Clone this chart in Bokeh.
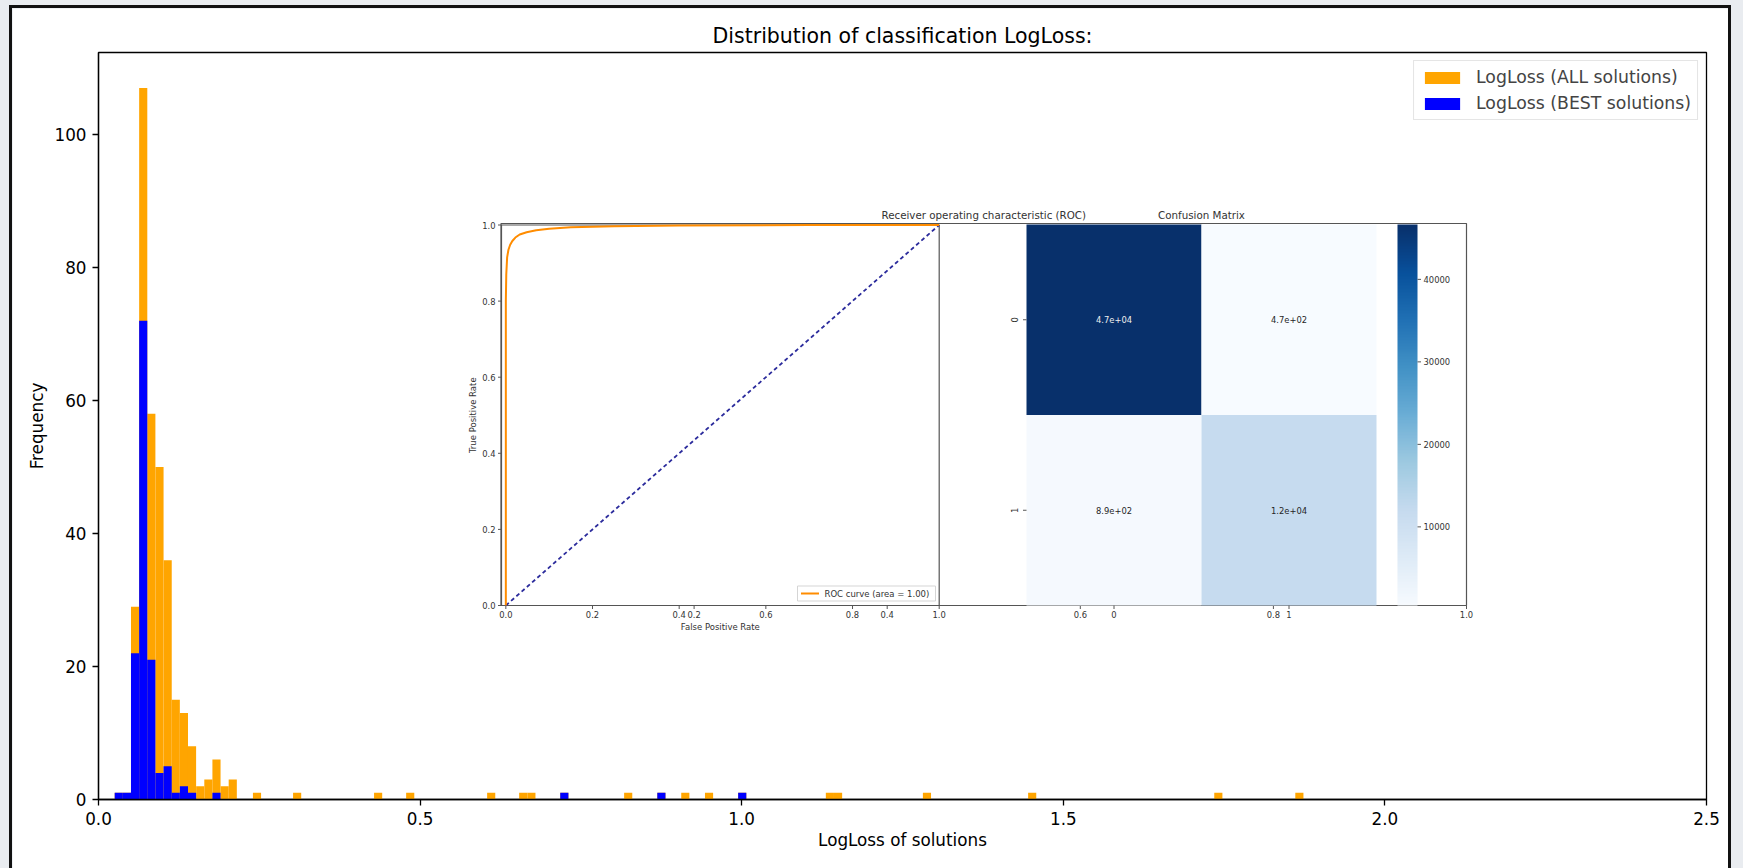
import numpy as np
from bokeh.plotting import figure
from bokeh.models import (Range1d, Legend, LegendItem, ColumnDataSource, LinearColorMapper,
                          FixedTicker, PrintfTickFormatter)
from bokeh.layouts import column
from bokeh.core.properties import value
from bokeh.palettes import Blues9
from bokeh.embed import file_html
from bokeh.resources import INLINE

try:
    from bokeh.palettes import interp_palette
    BLUES = list(interp_palette(list(reversed(Blues9)), 256))
except Exception:
    BLUES = list(reversed(Blues9))

# ---------------- data ----------------
bin_left = [0.0252, 0.0379, 0.0505, 0.0632, 0.0758, 0.0885, 0.1012, 0.1138, 0.1265, 0.1391,
            0.1518, 0.1645, 0.1771, 0.1898, 0.2024, 0.2401, 0.3025, 0.4284, 0.4783, 0.6042,
            0.6540, 0.6667, 0.7179, 0.8172, 0.8688, 0.9060, 0.9429, 0.9945, 1.1308, 1.1435,
            1.2817, 1.4453, 1.7347, 1.8607]
bin_width = 0.01266
all_counts = [1, 1, 29, 107, 58, 50, 36, 15, 13, 8, 2, 3, 6, 2, 3,
              1, 1, 1, 1, 1, 1, 1, 1, 1, 1, 1, 1, 1, 1, 1, 1, 1, 1, 1]
best_counts = [1, 1, 22, 72, 21, 4, 5, 1, 2, 1, 0, 0, 1, 0, 0,
               0, 0, 0, 0, 0, 0, 0, 1, 0, 1, 0, 0, 1, 0, 0, 0, 0, 0, 0]
x_ticks = [0.0, 0.5, 1.0, 1.5, 2.0, 2.5]
y_ticks = [0, 20, 40, 60, 80, 100]
x_max = 2.5
y_max = 112.35

roc_fpr = [0.0, 0.0, 0.001, 0.003, 0.006, 0.010, 0.015, 0.022, 0.032, 0.048, 0.070,
           0.100, 0.150, 0.250, 0.400, 0.700, 1.0]
roc_tpr = [0.0, 0.80, 0.87, 0.915, 0.935, 0.948, 0.958, 0.967, 0.975, 0.981, 0.986,
           0.990, 0.994, 0.997, 0.999, 1.0, 1.0]
diag = [0.0, 1.0]
roc_ticks = [0.0, 0.2, 0.4, 0.6, 0.8, 1.0]
outer_ticks = [0.2, 0.4, 0.6, 0.8, 1.0]
cm_values = [[46650, 470], [890, 12000]]
cm_classes = ["0", "1"]
cbar_ticks = [10000, 20000, 30000, 40000]

# ---------------- layout constants ----------------
FONT = "DejaVu Sans"
FL, FR, FT, FB = 98, 1706, 52, 799          # frame edges in window pixels
PX, PY, PW, PH = 12, 8, 1716, 860           # white panel
SPINE = "#555555"
INK = "#333333"

p = figure(width=PW, height=PH, x_range=Range1d(0, x_max), y_range=Range1d(0, y_max),
           output_backend="svg", toolbar_location=None,
           min_border_left=FL - PX, min_border_right=PX + PW - FR,
           min_border_top=FT - PY, min_border_bottom=PY + PH - FB)
p.title.text = "Distribution of classification LogLoss:"
p.title.align = "center"
p.title.text_font = FONT
p.title.text_font_size = "20.5px"
p.title.text_font_style = "normal"
p.title.text_color = "black"
p.title.standoff = 9
p.background_fill_color = "white"
p.border_fill_color = "white"
p.outline_line_color = "black"
p.outline_line_width = 1.3
p.grid.visible = False

p.xaxis.ticker = FixedTicker(ticks=x_ticks)
p.xaxis.formatter = PrintfTickFormatter(format="%.1f")
p.yaxis.ticker = FixedTicker(ticks=y_ticks)
p.yaxis.formatter = PrintfTickFormatter(format="%d")
p.xaxis.axis_label = "LogLoss of solutions"
p.yaxis.axis_label = "Frequency"
for ax in (p.xaxis[0], p.yaxis[0]):
    ax.major_label_text_font = FONT
    ax.major_label_text_font_size = "16.8px"
    ax.major_label_text_color = "black"
    ax.axis_label_text_font = FONT
    ax.axis_label_text_font_size = "16.8px"
    ax.axis_label_text_font_style = "normal"
    ax.axis_label_text_color = "black"
    ax.major_tick_out = 6
    ax.major_tick_in = 0
    ax.major_tick_line_width = 1.3
    ax.minor_tick_line_color = None
    ax.axis_line_width = 1.3
    ax.major_label_standoff = 6
p.xaxis.axis_label_standoff = 2
p.yaxis.axis_label_standoff = 4

# ---------------- histogram ----------------
src_all = ColumnDataSource(dict(left=bin_left,
                                right=[b + bin_width for b in bin_left],
                                top=all_counts))
best_idx = [i for i, c in enumerate(best_counts) if c > 0]
src_best = ColumnDataSource(dict(left=[bin_left[i] for i in best_idx],
                                 right=[bin_left[i] + bin_width for i in best_idx],
                                 top=[best_counts[i] for i in best_idx]))
r_all = p.quad(left="left", right="right", top="top", bottom=0, source=src_all,
               fill_color="#FFA500", line_color=None)
r_best = p.quad(left="left", right="right", top="top", bottom=0, source=src_best,
                fill_color="#0000FF", line_color=None)

legend = Legend(items=[LegendItem(label="LogLoss (ALL solutions)", renderers=[r_all]),
                       LegendItem(label="LogLoss (BEST solutions)", renderers=[r_best])],
                location="top_right", margin=8, padding=6, spacing=6,
                glyph_width=44, glyph_height=15, label_standoff=12, label_height=20,
                label_text_font=FONT, label_text_font_size="17.3px",
                border_line_color="#cccccc", border_line_width=1,
                background_fill_alpha=0.85)
p.add_layout(legend)


# ---------------- inset (ROC + confusion matrix) ----------------
def tx(px):
    return (px - FL) / (FR - FL) * x_max


def ty(py):
    return (FB - py) / (FB - FT) * y_max


def inset(xs, ys, left, right, top, bottom):
    return p.subplot(x_source=Range1d(*xs), y_source=Range1d(*ys),
                     x_target=Range1d(tx(left), tx(right)),
                     y_target=Range1d(ty(bottom), ty(top)))


TXT = dict(text_font=value(FONT), text_color=INK)
SMALL = "8.4px"

roc_x = (-0.01, 1.0)
roc_y = (0.0, 1.0)
roc = inset(roc_x, roc_y, 501, 938.7, 224.5, 605)
outer = inset((0.0, 1.0), (0.0, 1.0), 500.5, 1466, 223, 605)
cm = inset((0.0, 2.0), (2.0, 0.0), 1026, 1376, 224, 605)
vmin = min(min(r) for r in cm_values)
vmax = max(max(r) for r in cm_values)
cb = inset((0.0, 1.0), (vmin, vmax), 1397, 1417, 224, 605)
pix = inset((FL, FR), (FB, FT), FL, FR, FT, FB)

# spines
outer.quad(left=0, right=1, bottom=0, top=1, fill_color=None, line_color=SPINE, line_width=1.2)
roc.quad(left=roc_x[0], right=roc_x[1], bottom=roc_y[0], top=roc_y[1], fill_color=None,
         line_color=SPINE, line_width=1.2)

# ROC curves
roc.line(diag, diag, line_color="#2b2b9c", line_width=1.8, line_dash="4 3")
roc.line(roc_fpr, roc_tpr, line_color="#FF8C00", line_width=2)

# ROC ticks and labels
roc.ray(x=roc_x[0], y=roc_ticks, length=3.5, angle=np.pi, length_units="screen",
        line_color=SPINE, line_width=1)
roc.text(x=roc_x[0], y=roc_ticks, text=[f"{t:.1f}" for t in roc_ticks], x_offset=-6,
         text_align="right", text_baseline="middle", text_font_size=SMALL, **TXT)
roc.ray(x=roc_ticks, y=roc_y[0], length=3.5, angle=-np.pi / 2, length_units="screen",
        line_color=SPINE, line_width=1)
roc.text(x=roc_ticks, y=roc_y[0], text=[f"{t:.1f}" for t in roc_ticks], y_offset=5,
         text_align="center", text_baseline="top", text_font_size=SMALL, **TXT)
outer.ray(x=outer_ticks, y=0, length=3.5, angle=-np.pi / 2, length_units="screen",
          line_color=SPINE, line_width=1)
outer.text(x=outer_ticks, y=0, text=[f"{t:.1f}" for t in outer_ticks], y_offset=5,
           text_align="center", text_baseline="top", text_font_size=SMALL, **TXT)
roc.text(x=[sum(roc_x) / 2], y=[roc_y[0]], text=["False Positive Rate"], y_offset=21,
         text_align="center", text_baseline="middle", text_font_size="8.5px", **TXT)
roc.text(x=[roc_x[0]], y=[0.5], text=["True Positive Rate"], x_offset=-28.5, angle=np.pi / 2,
         text_align="center", text_baseline="middle", text_font_size="8.5px", **TXT)
outer.text(x=[0.5], y=[1.0], text=["Receiver operating characteristic (ROC)"], y_offset=-9,
           text_align="center", text_baseline="middle", text_font_size="10.3px", **TXT)

# ROC legend
pix.quad(left=797, right=935, top=585.5, bottom=600.5, fill_color="white",
         line_color="#d5d5d5", line_width=1)
pix.line([800.5, 818.5], [593, 593], line_color="#FF8C00", line_width=2)
pix.text(x=[824], y=[593], text=["ROC curve (area = 1.00)"], text_align="left",
         text_baseline="middle", text_font_size="8.5px", **TXT)

# confusion matrix
mapper = LinearColorMapper(palette=BLUES, low=vmin, high=vmax)
cl, cr, ct, cbm, cv, cx, cy, ctxt, ccol = [], [], [], [], [], [], [], [], []
for r, row in enumerate(cm_values):
    for c, v in enumerate(row):
        cl.append(c); cr.append(c + 1); ct.append(r); cbm.append(r + 1); cv.append(v)
        cx.append(c + 0.5); cy.append(r + 0.5); ctxt.append(f"{v:.1e}")
        ccol.append("#eeeeee" if v > (vmin + vmax) / 2 else "#262626")
cm.quad(source=ColumnDataSource(dict(l=cl, r=cr, t=ct, b=cbm, v=cv)),
        left="l", right="r", top="t", bottom="b",
        fill_color={"field": "v", "transform": mapper}, line_color=None)
cm.text(source=ColumnDataSource(dict(x=cx, y=cy, t=ctxt, c=ccol)), x="x", y="y", text="t",
        text_color="c", text_font=value(FONT), text_font_size=SMALL,
        text_align="center", text_baseline="middle")
centers = [i + 0.5 for i in range(len(cm_classes))]
cm.ray(x=centers, y=2.0, length=3.5, angle=-np.pi / 2, length_units="screen",
       line_color=SPINE, line_width=1)
cm.text(x=centers, y=2.0, text=cm_classes, y_offset=5, text_align="center",
        text_baseline="top", text_font_size=SMALL, **TXT)
cm.ray(x=0.0, y=centers, length=3.5, angle=np.pi, length_units="screen",
       line_color=SPINE, line_width=1)
cm.text(x=0.0, y=centers, text=cm_classes, x_offset=-12, angle=np.pi / 2,
        text_align="center", text_baseline="middle", text_font_size=SMALL, **TXT)
cm.text(x=[1.0], y=[0.0], text=["Confusion Matrix"], y_offset=-10, text_align="center",
        text_baseline="middle", text_font_size="10.3px", **TXT)

# colour bar
grad = np.linspace(vmin, vmax, 256).reshape(-1, 1)
cb.image(image=[grad], x=0, y=vmin, dw=1, dh=vmax - vmin, color_mapper=mapper)
cb.ray(x=1.0, y=cbar_ticks, length=3.5, angle=0, length_units="screen",
       line_color=SPINE, line_width=1)
cb.text(x=1.0, y=cbar_ticks, text=[str(t) for t in cbar_ticks], x_offset=6,
        text_align="left", text_baseline="middle", text_font_size=SMALL, **TXT)

# ---------------- page ----------------
p.margin = (PY, 0, 0, PX)
p.styles = {"outline": "3px solid #111111"}
page = column(p, width=1743, height=868, sizing_mode="fixed",
              styles={"background-color": "#e9ecf0"})

open("out.html", "w").write(file_html(page, INLINE, title="LogLoss distribution"))
